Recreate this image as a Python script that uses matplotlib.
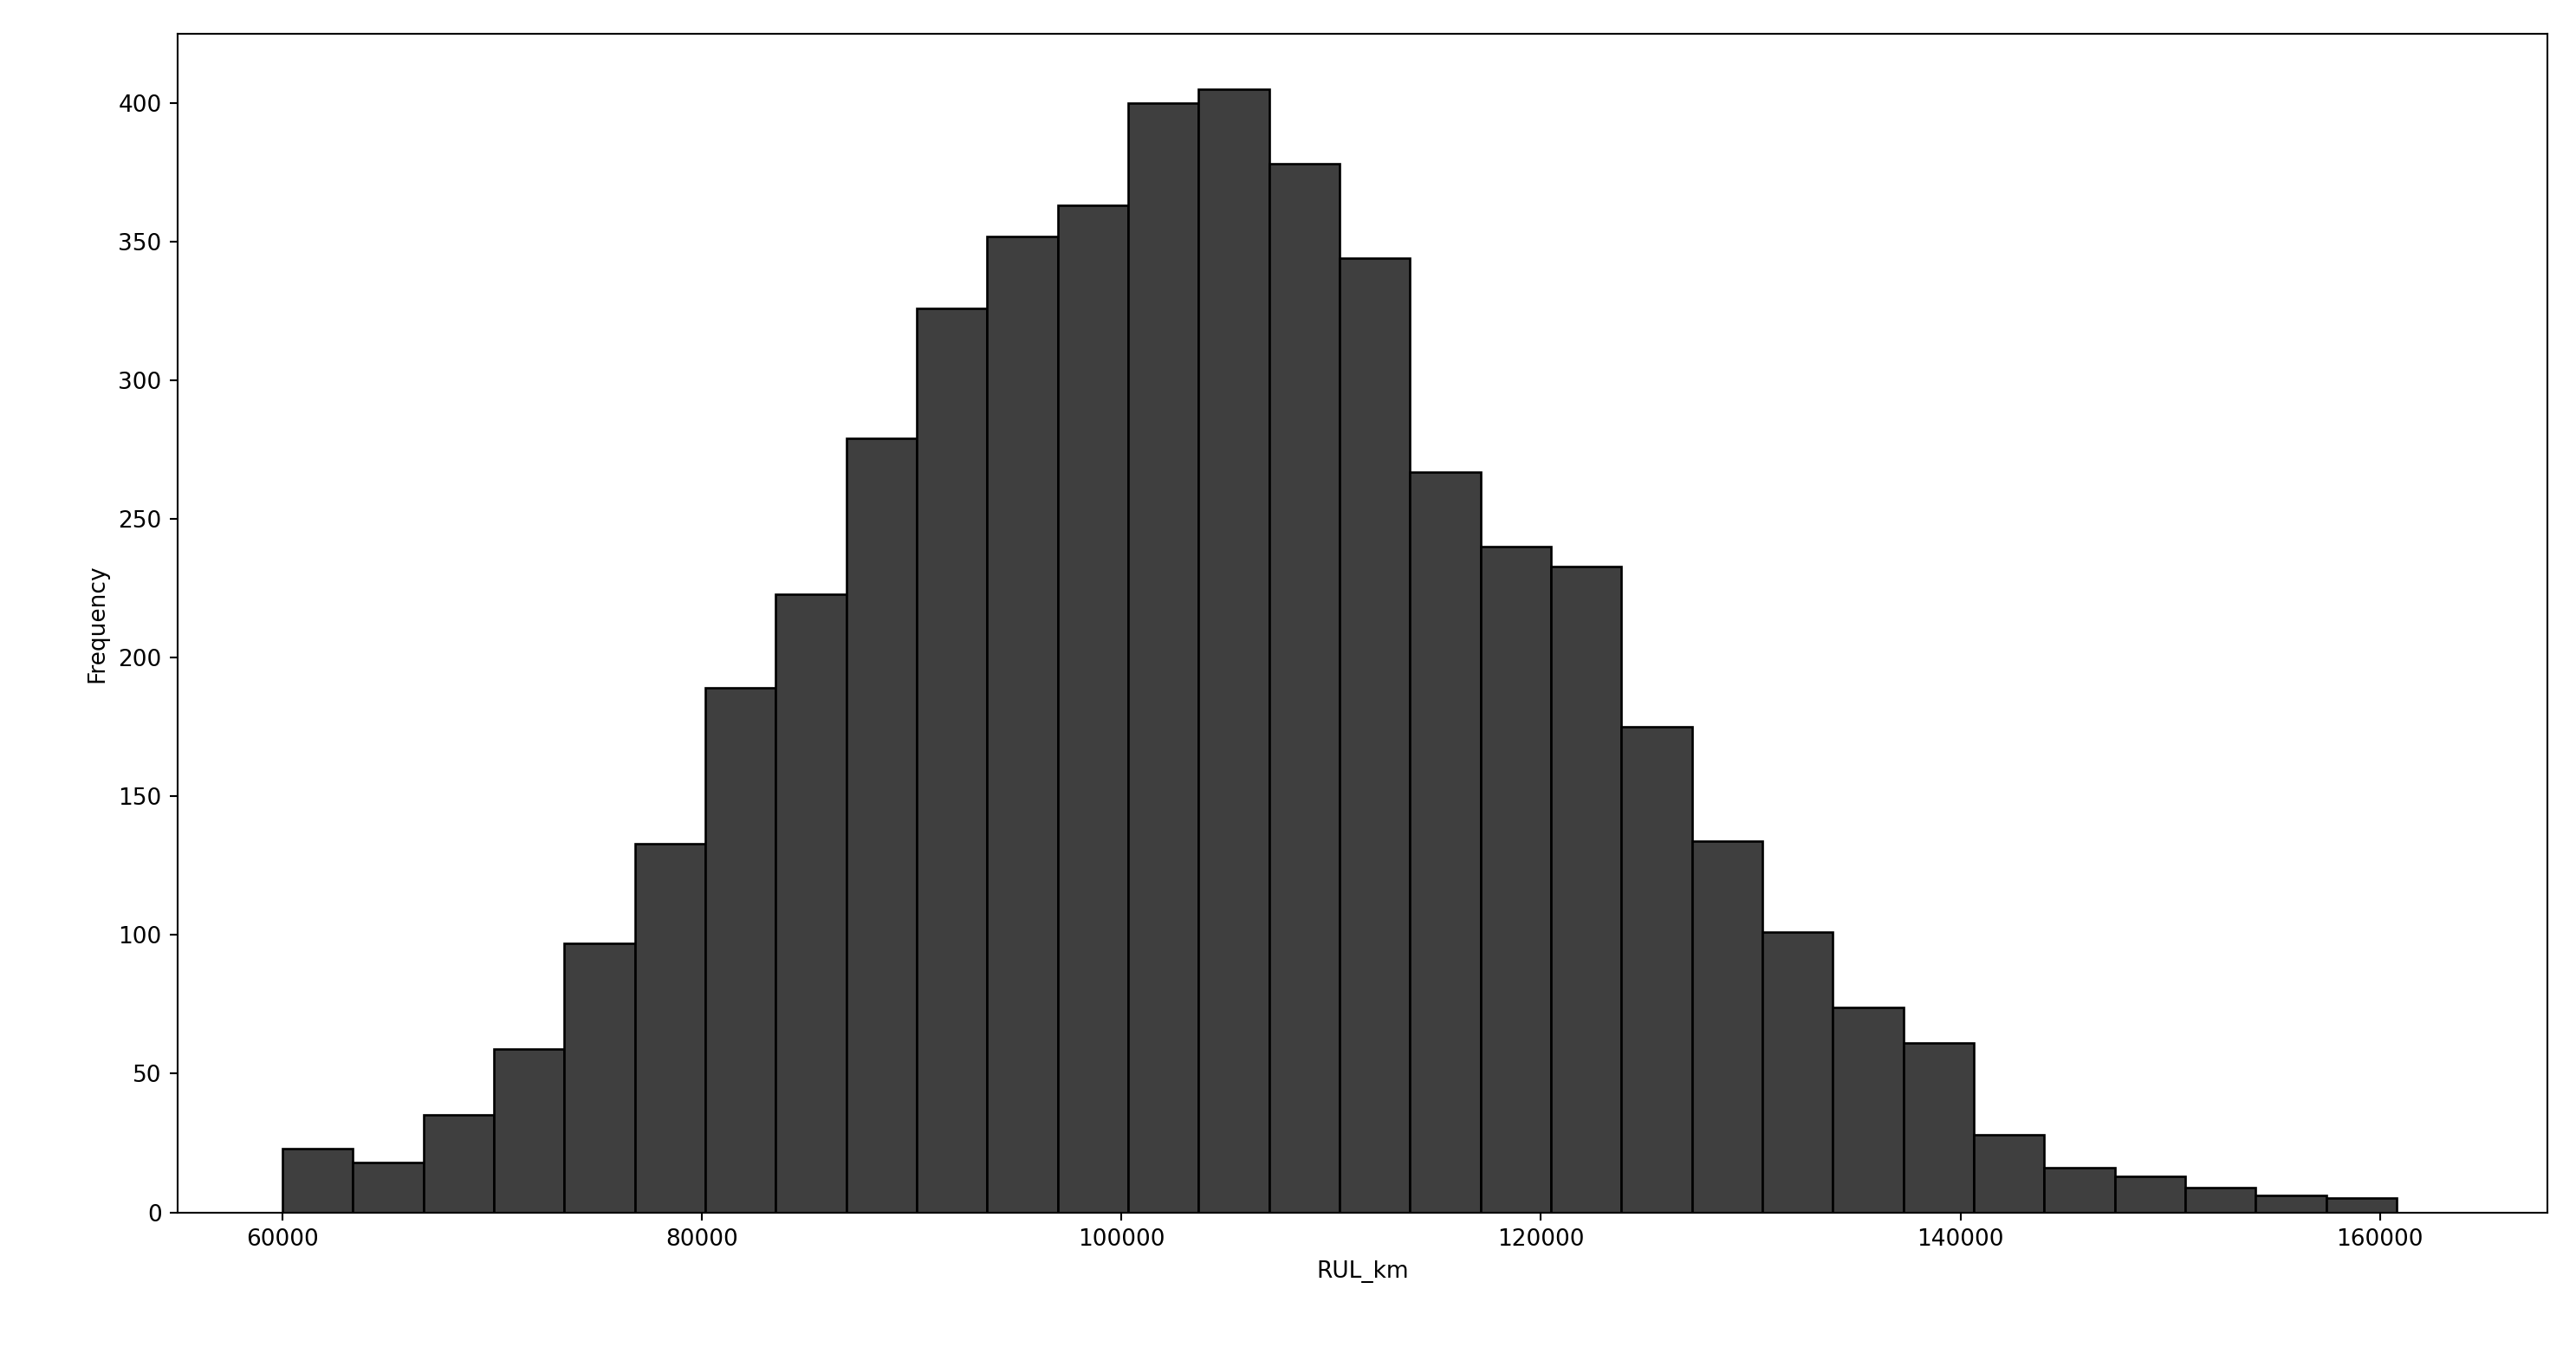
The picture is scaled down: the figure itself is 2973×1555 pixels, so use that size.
import numpy as np
import matplotlib
matplotlib.use("Agg")
import matplotlib.pyplot as plt

counts = [23, 18, 35, 59, 97, 133, 189, 223, 279, 326, 352, 363, 400, 405, 378,
          344, 267, 240, 233, 175, 134, 101, 74, 61, 28, 16, 13, 9, 6, 5]
bin_start = 60000
bin_end = 160800
xlabel = "RUL_km"
ylabel = "Frequency"

edges = np.linspace(bin_start, bin_end, len(counts) + 1)
fig = plt.figure(figsize=(2973/190, 1555/190), dpi=190)
ax = fig.add_axes([0.069, 0.10, 0.92, 0.875])
ax.bar(edges[:-1], counts, width=np.diff(edges), align="edge",
       color="#3f3f3f", edgecolor="black", linewidth=1.0)
ax.set_xlabel(xlabel)
ax.set_ylabel(ylabel)
ax.set_xticks([60000, 80000, 100000, 120000, 140000, 160000])
ax.set_xlim(55000, 168000)
ax.set_ylim(0, 425)
fig.savefig("out.png")
